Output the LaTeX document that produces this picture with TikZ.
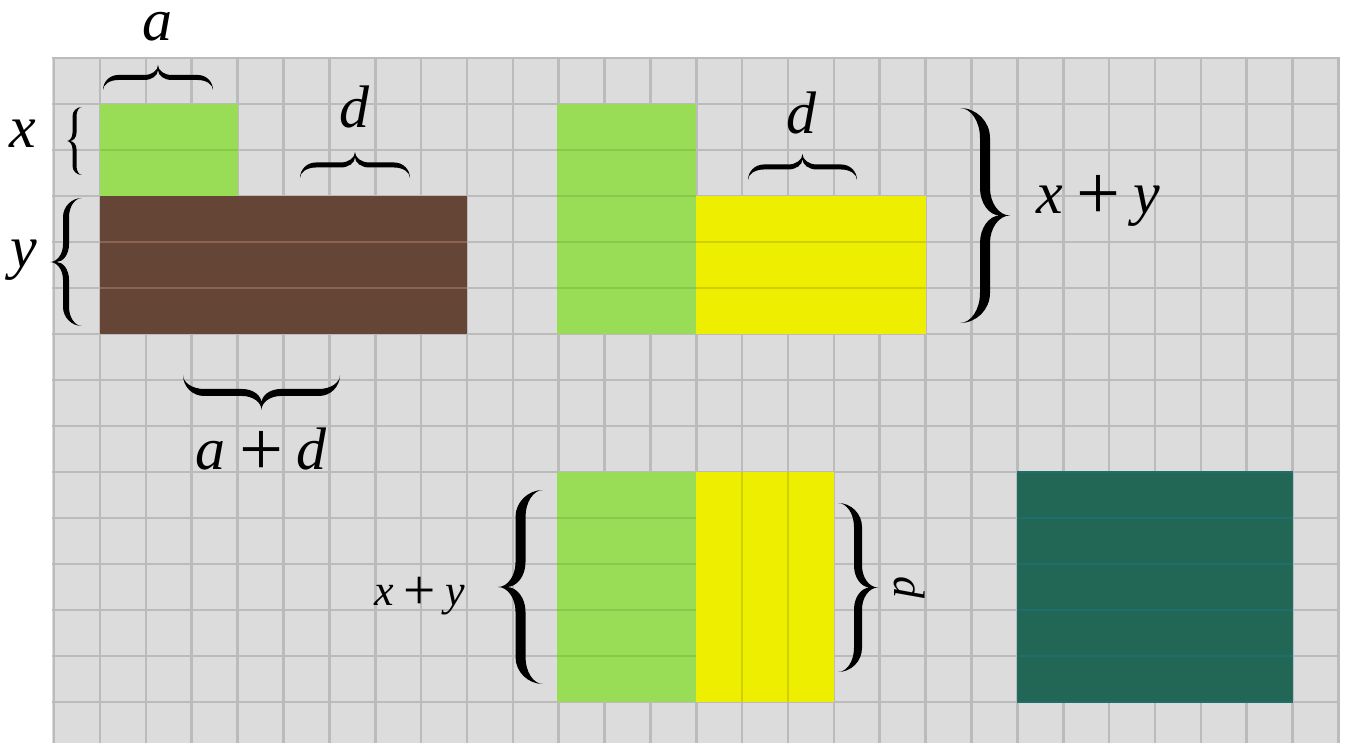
\documentclass[tikz,border=0pt]{standalone}
\usepackage{fontspec}
\setmainfont{Liberation Serif}
\definecolor{bgc}{HTML}{DCDCDC}
\definecolor{gridc}{HTML}{BBBBBB}
\definecolor{grn}{HTML}{99DC55}
\definecolor{grnl}{HTML}{88C84A}
\definecolor{brn}{HTML}{654535}
\definecolor{brnl}{HTML}{8A6552}
\definecolor{ylw}{HTML}{EEEE00}
\definecolor{ylwl}{HTML}{D0D000}
\definecolor{tel}{HTML}{226655}
\definecolor{tell}{HTML}{1E6E6C}
\newcommand\pl{\upshape\hspace{.22em}\raisebox{-0.1em}{\scalebox{1.3}{+}}\hspace{.22em}\itshape}
\newcommand\mybrace[3]{%
 \pgfmathsetmacro\brL{#1}%
 \pgfmathsetmacro\brH{#2}%
 \pgfmathsetmacro\brU{0.5*#2+0.5*#3}%
 \pgfmathsetmacro\brV{0.5*#2-0.5*#3}%
 \pgfmathsetmacro\brE{0.6*#2}%
 \pgfmathsetmacro\brT{0.55*#2}%
 \pgfmathsetmacro\brC{\brU+0.5*(#2-\brU)}%
 \fill[black] (-\brL,0) .. controls (-\brL,0.55*\brU) and ({-\brL+0.45*\brE},\brU) .. ({-\brL+\brE},\brU)
  -- (-\brT,\brU)
  .. controls (-0.45*\brT,\brU) and (0,{\brH-0.55*(\brH-\brU)}) .. (0,\brH)
  .. controls (0,{\brH-0.55*(\brH-\brU)}) and (0.45*\brT,\brU) .. (\brT,\brU)
  -- ({\brL-\brE},\brU)
  .. controls ({\brL-0.45*\brE},\brU) and (\brL,0.55*\brU) .. (\brL,0)
  .. controls (\brL,0.55*\brV) and ({\brL-0.45*\brE},\brV) .. ({\brL-\brE},\brV)
  -- (\brT,\brV)
  .. controls (0.45*\brT,\brV) and (0,{\brC-0.55*(\brC-\brV)}) .. (0,\brC)
  .. controls (0,{\brC-0.55*(\brC-\brV)}) and (-0.45*\brT,\brV) .. (-\brT,\brV)
  -- ({-\brL+\brE},\brV)
  .. controls ({-\brL+0.45*\brE},\brV) and (-\brL,0.55*\brV) .. (-\brL,0) -- cycle;
}
\tikzset{
  lbl/.style={font=\fontsize{30}{36}\selectfont\itshape, inner sep=0pt, anchor=base},
  slbl/.style={font=\fontsize{22}{26}\selectfont\itshape, inner sep=0pt, anchor=base},
  gridline/.style={draw=gridc, line width=1.3pt},
  strip/.style={line width=1pt},
}
\begin{document}
\begin{tikzpicture}[x=0.5pt,y=0.5pt]
\useasboundingbox (0,0) rectangle (1346,-743);
\fill[white] (0,0) rectangle (1346,-743);
\fill[bgc] (52,-58) rectangle (1340,-743);
\begin{scope}[shift={(100,-104)}, x=22.935pt, y=-23pt]
  \foreach \k in {-1,...,27} \draw[gridline] (\k,-1) -- (\k,14);
  \foreach \j in {-1,...,13} \draw[gridline] (-1.04,\j) -- (27.03,\j);
  % small green
  \fill[grn] (0,0) rectangle (3,2);
  \draw[strip, grnl] (0,1) -- (3,1);
  % brown
  \fill[brn] (0,2) rectangle (8,5);
  \foreach \j in {3,4} \draw[strip, brnl] (0,\j) -- (8,\j);
  % green top right
  \fill[grn] (9.96,0) rectangle (13,5);
  \foreach \j in {1,...,4} \draw[strip, grnl] (9.96,\j) -- (13,\j);
  % yellow top right
  \fill[ylw] (13,2) rectangle (18,5);
  \foreach \j in {3,4} \draw[strip, ylwl] (13,\j) -- (18,\j);
  % green bottom
  \fill[grn] (9.96,8) rectangle (13,13);
  \foreach \j in {9,...,12} \draw[strip, grnl] (9.96,\j) -- (13,\j);
  % yellow bottom
  \fill[ylw] (13,8) rectangle (16,13);
  \foreach \k in {14,15} \draw[strip, ylwl] (\k,8) -- (\k,13);
  % teal
  \fill[tel] (20,8) rectangle (26,13);
  \foreach \j in {9,...,12} \draw[strip, tell] (20,\j) -- (26,\j);
  \draw[line width=0.6pt, tell] (20,8) rectangle (26,13);
\end{scope}
% braces
\begin{scope}[shift={(158,-90)}]\mybrace{55}{25}{5}\end{scope}
\begin{scope}[shift={(82,-141)}, rotate=90]\mybrace{34}{15}{4}\end{scope}
\begin{scope}[shift={(355,-178)}]\mybrace{55}{26}{5}\end{scope}
\begin{scope}[shift={(82,-262)}, rotate=90]\mybrace{64}{32}{6}\end{scope}
\begin{scope}[shift={(261.5,-375)}, rotate=180]\mybrace{78.5}{35}{7}\end{scope}
\begin{scope}[shift={(802.5,-180)}]\mybrace{54.5}{26}{5}\end{scope}
\begin{scope}[shift={(960,-215.5)}, rotate=-90]\mybrace{107.5}{50}{10}\end{scope}
\begin{scope}[shift={(543,-587)}, rotate=90]\mybrace{97}{45}{10}\end{scope}
\begin{scope}[shift={(838,-587.5)}, rotate=-90]\mybrace{84.5}{40}{8}\end{scope}
% labels
\node[lbl] (la) at (157,-41) {a};
\node[lbl] (lx) at (23,-148) {x};
\node[lbl] (ly) at (24,-268) {y};
\node[lbl] (ld1) at (354,-128) {d};
\node[lbl] (lad) at (261,-470) {a\pl d};
\node[lbl] (ld2) at (801,-134) {d};
\node[lbl] (lxy1) at (1098,-214) {x\pl y};
\node[slbl] (lxy2) at (419.5,-605) {x\pl y};
\node[slbl, anchor=center, rotate=-90] (ld3) at (910,-588) {d};
\end{tikzpicture}
\end{document}
